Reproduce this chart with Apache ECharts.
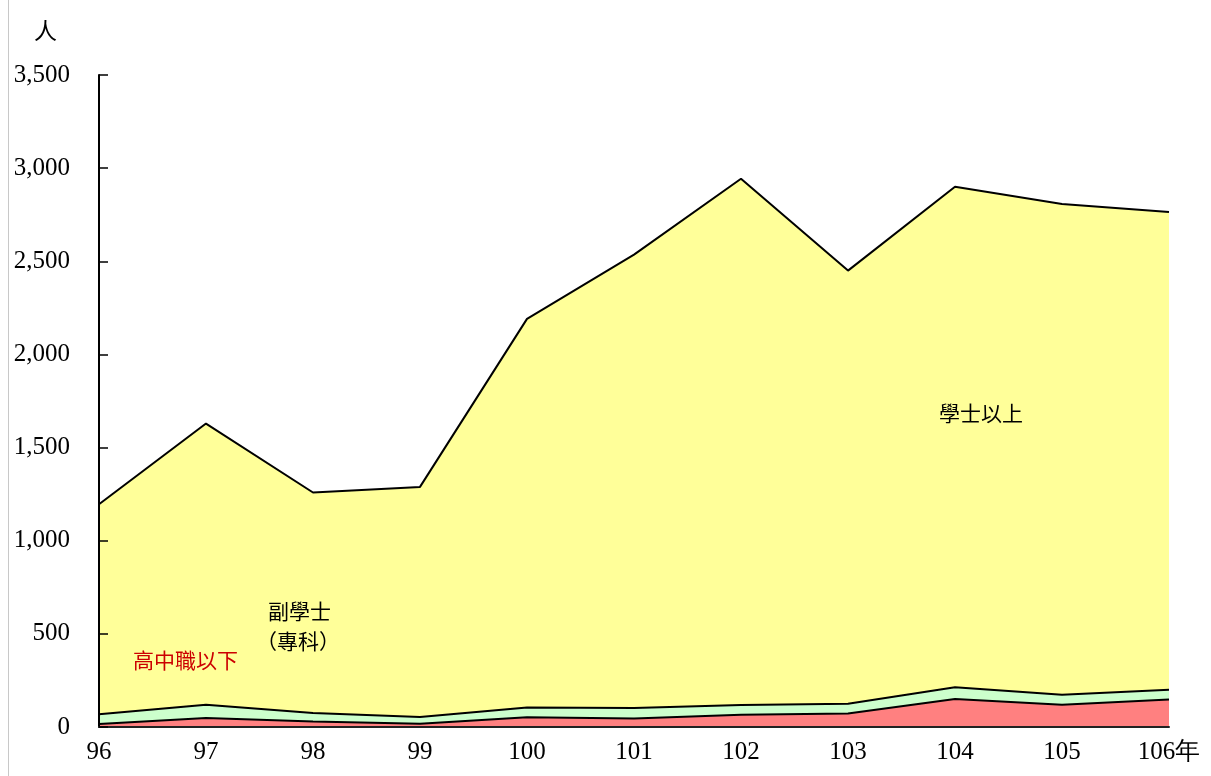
<!DOCTYPE html>
<html>
<head>
<meta charset="utf-8">
<title>chart</title>
<script src="https://cdn.jsdelivr.net/npm/echarts@6/dist/echarts.min.js"></script>
<style>
  html, body { margin: 0; padding: 0; background: #fff; }
  #main { width: 1211px; height: 776px; }
</style>
</head>
<body>
<div id="main"></div>
<script>
  // 年度
  var years = ['96', '97', '98', '99', '100', '101', '102', '103', '104', '105', '106']
  // 人數 (堆疊)
  var highSchool = [16, 48, 30, 18, 52, 46, 66, 72, 150, 120, 147]
  var associate = [52, 72, 45, 36, 53, 56, 52, 53, 63, 53, 53]
  var bachelor = [1128, 1509, 1184, 1235, 2086, 2434, 2825, 2325, 2687, 2634, 2564]
  var yTicks = [0, 500, 1000, 1500, 2000, 2500, 3000, 3500]

  var serif = '"Liberation Serif", "Times New Roman", serif'
  var cjk = '"Noto Sans CJK TC", "Noto Sans CJK SC", sans-serif'

  var chart = echarts.init(document.getElementById('main'))

  function areaSeries(name, data, color) {
    return {
      name: name,
      type: 'line',
      stack: 'total',
      data: data,
      symbol: 'none',
      smooth: false,
      lineStyle: { color: '#000', width: 2 },
      areaStyle: { color: color, opacity: 1 },
      z: 2,
      animation: false
    }
  }

  chart.setOption({
    backgroundColor: '#fff',
    grid: {
      left: 99,
      right: 42,
      top: 75,
      bottom: 49,
      containLabel: false
    },
    xAxis: {
      type: 'category',
      data: years,
      boundaryGap: false,
      z: 5,
      axisLine: { show: true, lineStyle: { color: '#222', width: 2 } },
      axisTick: { show: false },
      axisLabel: {
        color: '#000',
        fontFamily: serif,
        fontSize: 25,
        margin: 13,
        formatter: function (v, i) {
          return i === years.length - 1 ? v + '年' : v
        }
      },
      splitLine: { show: false }
    },
    yAxis: {
      type: 'value',
      min: yTicks[0],
      max: yTicks[yTicks.length - 1],
      interval: 500,
      z: 5,
      axisLine: { show: true, lineStyle: { color: '#000', width: 2 } },
      axisTick: { show: true, inside: true, length: 9, lineStyle: { color: '#000', width: 1.5 } },
      axisLabel: {
        color: '#000',
        fontFamily: serif,
        fontSize: 25,
        margin: 29,
        formatter: function (v) {
          return v.toString().replace(/\B(?=(\d{3})+(?!\d))/g, ',')
        }
      },
      splitLine: { show: false }
    },
    series: [
      areaSeries('高中職以下', highSchool, '#FF8080'),
      areaSeries('副學士（專科）', associate, '#CCFFCC'),
      areaSeries('學士以上', bachelor, '#FFFF99')
    ],
    graphic: [
      {
        type: 'rect',
        shape: { x: 8, y: 0, width: 1, height: 776 },
        style: { fill: '#c8c8c8' },
        silent: true
      },
      {
        type: 'text',
        left: 34,
        top: 19,
        style: { text: '人', font: '23px ' + cjk, fill: '#000' }
      },
      {
        type: 'text',
        left: 939,
        top: 403,
        z: 10,
        style: { text: '學士以上', font: '21px ' + cjk, fill: '#000' }
      },
      {
        type: 'text',
        left: 268,
        top: 601,
        z: 10,
        style: { text: '副學士', font: '21px ' + cjk, fill: '#000' }
      },
      {
        type: 'text',
        left: 256,
        top: 631,
        z: 10,
        style: { text: '（專科）', font: '21px ' + cjk, fill: '#000' }
      },
      {
        type: 'text',
        left: 133,
        top: 650,
        z: 10,
        style: { text: '高中職以下', font: '21px ' + cjk, fill: '#CC0000' }
      }
    ]
  })
</script>
</body>
</html>
